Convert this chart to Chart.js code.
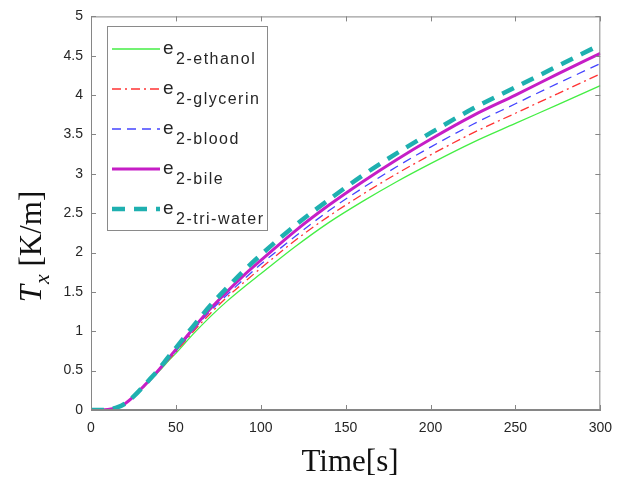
<!DOCTYPE html>
<html>
<head>
<meta charset="utf-8">
<script src="https://cdn.jsdelivr.net/npm/chart.js@4.4.0/dist/chart.umd.min.js"></script>
<style>
  html, body { margin: 0; padding: 0; background: #fff; }
</style>
</head>
<body>
<canvas id="chart" width="622" height="483"></canvas>
<script>
/* ==========================
   DATA
========================== */
const times    = [0, 5, 10, 15, 20, 25, 30, 35, 40, 45, 50, 60, 70, 80, 90, 100, 120, 140, 160, 180, 200, 225, 250, 275, 300];
const ethanol  = [0, 0, 0.005, 0.03, 0.08, 0.17, 0.27, 0.38, 0.49, 0.61, 0.72, 0.96, 1.18, 1.38, 1.56, 1.73, 2.07, 2.38, 2.65, 2.90, 3.13, 3.40, 3.64, 3.88, 4.12];
const glycerin = [0, 0, 0.005, 0.03, 0.08, 0.17, 0.28, 0.38, 0.50, 0.62, 0.74, 0.99, 1.22, 1.43, 1.62, 1.80, 2.15, 2.46, 2.74, 3.00, 3.24, 3.52, 3.77, 4.02, 4.27];
const blood    = [0, 0, 0.005, 0.03, 0.08, 0.17, 0.28, 0.39, 0.50, 0.63, 0.75, 1.01, 1.25, 1.46, 1.66, 1.85, 2.20, 2.53, 2.82, 3.09, 3.34, 3.63, 3.89, 4.15, 4.40];
const bile     = [0, 0, 0.005, 0.03, 0.08, 0.17, 0.28, 0.39, 0.51, 0.64, 0.77, 1.03, 1.28, 1.50, 1.71, 1.90, 2.27, 2.60, 2.90, 3.18, 3.44, 3.74, 4.00, 4.27, 4.53];
const triWater = [0, 0, 0.005, 0.03, 0.08, 0.17, 0.28, 0.40, 0.52, 0.66, 0.79, 1.06, 1.32, 1.55, 1.77, 1.97, 2.34, 2.67, 2.98, 3.26, 3.52, 3.83, 4.10, 4.37, 4.64];

const legendSubs = ["2-ethanol", "2-glycerin", "2-blood", "2-bile", "2-tri-water"];
const xTicks = [0, 50, 100, 150, 200, 250, 300];
const yTicks = [0, 0.5, 1, 1.5, 2, 2.5, 3, 3.5, 4, 4.5, 5];

/* ==========================
   STYLE
========================== */
const AXIS_COL = "#868686";
const TEXT_COL = "#262626";
const SANS = '"Liberation Sans", Arial, sans-serif';
const SERIF = '"Liberation Serif", "Times New Roman", serif';

const pts = arr => arr.map((v, i) => ({x: times[i], y: v}));

const series = [
    {data: ethanol,  color: "#44ee44", width: 1.3, dash: []},
    {data: glycerin, color: "#ff3333", width: 1.3, dash: [9, 4, 2, 4]},
    {data: blood,    color: "#4444ff", width: 1.3, dash: [9, 6]},
    {data: bile,     color: "#c61ec6", width: 3,   dash: []},
    {data: triWater, color: "#1fb0b0", width: 4.5, dash: [13, 9]}
];

/* ==========================
   PLUGINS
========================== */
// MATLAB style box with inward ticks on all four sides
const boxPlugin = {
    id: "box",
    afterDatasetsDraw(chart){
        const {ctx, chartArea: a, scales} = chart;
        ctx.save();
        ctx.strokeStyle = AXIS_COL;
        ctx.lineWidth = 1;
        ctx.strokeRect(a.left + 0.5, a.top + 0.5, a.right - a.left - 1, a.bottom - a.top - 1);
        ctx.beginPath();
        xTicks.forEach(v => {
            const px = Math.round(scales.x.getPixelForValue(v)) + 0.5;
            ctx.moveTo(px, a.bottom); ctx.lineTo(px, a.bottom - 5);
            ctx.moveTo(px, a.top); ctx.lineTo(px, a.top + 5);
        });
        yTicks.forEach(v => {
            const py = Math.round(scales.y.getPixelForValue(v)) + 0.5;
            ctx.moveTo(a.left, py); ctx.lineTo(a.left + 5, py);
            ctx.moveTo(a.right, py); ctx.lineTo(a.right - 5, py);
        });
        ctx.stroke();
        ctx.restore();
    }
};

// axis titles with italic / subscript pieces
const titlePlugin = {
    id: "titles",
    afterDraw(chart){
        const ctx = chart.ctx;
        ctx.save();
        ctx.fillStyle = "#111";
        ctx.textBaseline = "alphabetic";

        // x title
        ctx.font = "31px " + SERIF;
        ctx.textAlign = "center";
        ctx.fillText("Time[s]", 350, 471);

        // y title
        ctx.textAlign = "left";
        ctx.translate(41, 247);
        ctx.rotate(-Math.PI / 2);
        const fT = "italic 31px " + SERIF, fx = "italic 22px " + SERIF, fR = "31px " + SERIF;
        ctx.font = fT; const wT = ctx.measureText("T").width;
        ctx.font = fx; const wx = ctx.measureText("x").width;
        ctx.font = fR; const wR = ctx.measureText(" [K/m]").width;
        let x0 = -(wT + wx + wR) / 2;
        ctx.font = fT; ctx.fillText("T", x0, 0); x0 += wT + 1;
        ctx.font = fx; ctx.fillText("x", x0, 8); x0 += wx;
        ctx.font = fR; ctx.fillText(" [K/m]", x0, 0);
        ctx.restore();
    }
};

// legend with "e" + subscript labels
const legendPlugin = {
    id: "texLegend",
    afterDraw(chart){
        const ctx = chart.ctx;
        ctx.save();
        ctx.fillStyle = "#fff";
        ctx.fillRect(107, 26, 161, 205);
        ctx.strokeStyle = "#8a8a8a";
        ctx.lineWidth = 1;
        ctx.strokeRect(107.5, 26.5, 160, 204);

        chart.data.datasets.forEach((ds, i) => {
            const y = 49 + i * 40;
            ctx.strokeStyle = ds.borderColor;
            ctx.lineWidth = Math.max(ds.borderWidth, 1.6);
            ctx.setLineDash(ds.borderDash || []);
            ctx.beginPath();
            ctx.moveTo(112, y); ctx.lineTo(160, y);
            ctx.stroke();
            ctx.setLineDash([]);

            ctx.fillStyle = TEXT_COL;
            ctx.textAlign = "left";
            ctx.font = "19px " + SANS;
            ctx.letterSpacing = "0px";
            ctx.fillText("e", 163, y + 5);
            ctx.font = "16px " + SANS;
            ctx.letterSpacing = "1.5px";
            ctx.fillText(legendSubs[i], 176, y + 15);
            ctx.letterSpacing = "0px";
        });
        ctx.restore();
    }
};

/* ==========================
   CHART
========================== */
new Chart(document.getElementById("chart"), {
    type: "line",
    data: {
        datasets: series.map((s, i) => ({
            label: legendSubs[i],
            data: pts(s.data),
            borderColor: s.color,
            backgroundColor: s.color,
            borderWidth: s.width,
            borderDash: s.dash,
            pointRadius: 0,
            fill: false,
            cubicInterpolationMode: "monotone",
            order: series.length - i
        }))
    },
    options: {
        responsive: false,
        animation: false,
        devicePixelRatio: 1,
        layout: {padding: {top: 13, right: 11, left: 0, bottom: 0}},
        plugins: {legend: {display: false}, tooltip: {enabled: false}},
        scales: {
            x: {
                type: "linear",
                min: 0, max: 300,
                afterBuildTicks: s => { s.ticks = xTicks.map(v => ({value: v})); },
                afterFit: s => { s.height = 73; },
                grid: {display: false, drawTicks: false},
                border: {display: true, color: AXIS_COL, width: 1},
                ticks: {font: {family: SANS, size: 14}, color: TEXT_COL, padding: 10,
                        autoSkip: false, maxRotation: 0, callback: v => String(v)}
            },
            y: {
                type: "linear",
                min: 0, max: 5,
                afterBuildTicks: s => { s.ticks = yTicks.map(v => ({value: v})); },
                afterFit: s => { s.width = 91; },
                grid: {display: false, drawTicks: false},
                border: {display: true, color: AXIS_COL, width: 1},
                ticks: {font: {family: SANS, size: 14}, color: TEXT_COL, padding: 8,
                        autoSkip: false, callback: v => String(v)}
            }
        }
    },
    plugins: [boxPlugin, titlePlugin, legendPlugin]
});
</script>
</body>
</html>
